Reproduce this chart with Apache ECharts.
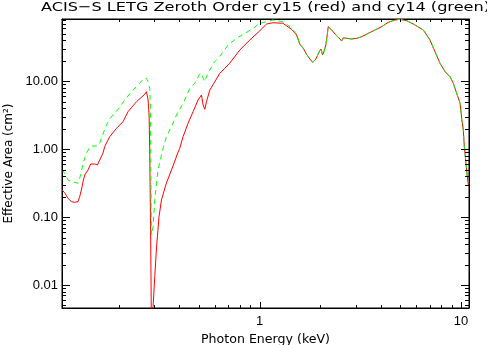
<!DOCTYPE html>
<html>
<head>
<meta charset="utf-8">
<script src="https://cdn.jsdelivr.net/npm/echarts@6/dist/echarts.min.js"></script>
<style>
  html, body { margin: 0; padding: 0; background: #ffffff; }
  #chart { width: 487px; height: 345px; }
</style>
</head>
<body>
<div id="chart"></div>
<script>
// Photon energy (keV) and effective area (cm^2), cycle 15
const energyCy15 = [
  0.1046, 0.1078, 0.112, 0.1165, 0.121, 0.1256, 0.128, 0.1306, 0.133, 0.1356,
  0.1408, 0.1452, 0.152, 0.1568, 0.161, 0.167, 0.1704, 0.1805, 0.195, 0.210,
  0.2225, 0.245, 0.2694, 0.2747, 0.2798, 0.2830, 0.2851, 0.2880, 0.2905, 0.2935,
  0.2962, 0.302, 0.3083, 0.317, 0.326, 0.345, 0.3656, 0.3928, 0.4018, 0.4175,
  0.4418, 0.468, 0.4955, 0.515, 0.5248, 0.535, 0.5454, 0.5666, 0.600, 0.635,
  0.673, 0.686, 0.7126, 0.798, 0.895, 1.004, 1.084, 1.165, 1.306, 1.442, 1.527,
  1.586, 1.647, 1.713, 1.778, 1.836, 1.905, 1.978, 2.017, 2.056, 2.087,
  2.135, 2.168, 2.193, 2.218, 2.28, 2.322, 2.414, 2.506, 2.556, 2.604,
  2.706, 2.866, 3.034, 3.213, 3.465, 3.741, 4.04, 4.355, 4.70, 4.98,
  5.375, 5.80, 6.50, 7.02, 7.43, 7.87, 8.33, 8.82, 9.16, 9.52,
  9.90, 10.08, 10.27, 10.39, 10.59, 10.75, 10.88
];
const areaCy15 = [
  0.251, 0.229, 0.189, 0.169, 0.165, 0.169, 0.200, 0.251, 0.333, 0.417,
  0.494, 0.606, 0.606, 0.586, 0.694, 0.871, 1.09, 1.53, 2.03, 2.54,
  3.57, 5.01, 6.44, 7.03, 5.31, 3.19, 0.974, 0.06, 0.003, 0.003,
  0.0048, 0.0133, 0.0366, 0.101, 0.179, 0.318, 0.494, 0.880, 1.03, 1.53,
  2.41, 3.57, 5.31, 6.29, 4.48, 3.87, 5.01, 7.45, 9.88, 13.1,
  15.6, 14.7, 18.6, 28.9, 40.6, 55.7, 69.8, 73.0, 71.6, 58.3, 48.1,
  35.1, 30.7, 25.0, 21.3, 19.1, 21.3, 27.3, 29.9, 24.4, 27.3,
  34.3, 48.1, 63.8, 61.7, 57.0, 57.0, 47.0, 42.0, 39.2, 43.9,
  43.0, 42.0, 43.0, 45.4, 50.9, 57.0, 63.8, 74.0, 80.0, 82.0,
  78.2, 69.8, 57.0, 40.6, 27.3, 18.4, 13.9, 11.7, 9.35, 6.66,
  4.75, 2.85, 1.92, 1.09, 0.621, 0.394, 0.297
];

// Photon energy (keV) and effective area (cm^2), cycle 14
const energyCy14 = [
  0.1046, 0.1078, 0.112, 0.1165, 0.1256, 0.128, 0.1306, 0.133, 0.1383, 0.1425,
  0.1465, 0.155, 0.1597, 0.1641, 0.1738, 0.184, 0.1985, 0.2143, 0.2313, 0.2543,
  0.264, 0.2747, 0.2798, 0.2851, 0.2874, 0.2905, 0.2925, 0.2962, 0.302, 0.308,
  0.3135, 0.326, 0.332, 0.345, 0.3656, 0.387, 0.4175, 0.4508, 0.4773, 0.501,
  0.515, 0.5248, 0.535, 0.5454, 0.5666, 0.600, 0.623, 0.660, 0.6985, 0.769,
  0.846, 0.930, 1.004, 1.084, 1.165, 1.306, 1.416, 1.527,
  1.586, 1.647, 1.713, 1.778, 1.836, 1.905, 1.978, 2.017, 2.056, 2.087,
  2.135, 2.168, 2.193, 2.218, 2.28, 2.322, 2.414, 2.506, 2.556, 2.604,
  2.706, 2.866, 3.034, 3.213, 3.465, 3.741, 4.04, 4.355, 4.70, 4.98,
  5.375, 5.80, 6.50, 7.02, 7.43, 7.87, 8.33, 8.82, 9.16, 9.52,
  9.90, 10.08, 10.27, 10.39, 10.59, 10.75, 10.88
];
const areaCy14 = [
  0.494, 0.442, 0.352, 0.333, 0.315, 0.373, 0.467, 0.621, 0.871, 1.03,
  1.116, 1.116, 1.154, 1.45, 2.28, 3.01, 3.87, 5.31, 7.03, 9.35,
  10.7, 11.1, 9.88, 7.89, 4.23, 0.06, 0.055, 0.0723, 0.1787, 0.315,
  0.494, 0.822, 1.03, 1.53, 2.15, 3.19, 4.75, 7.89, 9.35, 12.4,
  13.1, 11.1, 9.88, 11.7, 14.7, 19.5, 21.8, 27.3, 34.3, 43.0,
  50.9, 60.4, 71.6, 75.6, 80.0, 75.6, 63.7, 49.5,
  35.1, 30.7, 25.0, 21.3, 19.1, 21.3, 27.3, 29.9, 24.4, 27.3,
  34.3, 48.1, 63.8, 61.7, 57.0, 57.0, 47.0, 42.0, 39.2, 43.9,
  43.0, 42.0, 43.0, 45.4, 50.9, 57.0, 63.8, 74.0, 80.0, 82.0,
  78.2, 69.8, 57.0, 40.6, 27.3, 18.4, 13.9, 11.7, 9.35, 6.66,
  4.75, 2.85, 1.92, 1.09, 0.621, 0.40, 0.33
];

// Axis ranges and tick positions
const xRange = [0.1046, 10.96];
const yRange = [0.00458, 82.8];
const xMajorTicks = [1, 10];
const xMinorTicks = [0.2, 0.3, 0.4, 0.5, 0.6, 0.7, 0.8, 0.9, 2, 3, 4, 5, 6, 7, 8, 9];
const yMajorTicks = [0.01, 0.1, 1, 10];
const yMinorTicks = [
  0.005, 0.006, 0.007, 0.008, 0.009,
  0.02, 0.03, 0.04, 0.05, 0.06, 0.07, 0.08, 0.09,
  0.2, 0.3, 0.4, 0.5, 0.6, 0.7, 0.8, 0.9,
  2, 3, 4, 5, 6, 7, 8, 9,
  20, 30, 40, 50, 60, 70, 80
];

const titleText = 'ACIS\u2212S LETG Zeroth Order cy15 (red) and cy14 (green)';
const xName = 'Photon Energy (keV)';
const yName = 'Effective Area (cm\u00B2)';

const INK = '#000000';
const LABEL_FONT = 'Liberation Sans';
const NAME_FONT = 'DejaVu Sans';

function pairs(xs, ys) {
  return xs.map((x, i) => [x, ys[i]]);
}

function logAxis(range, position, labelFmt, margin) {
  return {
    type: 'log',
    logBase: 10,
    min: range[0],
    max: range[1],
    position: position,
    axisLine: { show: true, onZero: false, lineStyle: { color: INK, width: 1 } },
    axisTick: { show: false },
    axisLabel: labelFmt ? {
      show: true,
      showMinLabel: false,
      showMaxLabel: false,
      formatter: labelFmt,
      margin: margin,
      color: INK,
      fontFamily: LABEL_FONT,
      fontSize: 13
    } : { show: false },
    splitLine: { show: false },
    minorTick: { show: false }
  };
}

// Inward tick marks on both opposite sides of the frame, as 1px filled bars
function xTickSeries(values, len) {
  return {
    type: 'custom',
    coordinateSystem: 'cartesian2d',
    xAxisIndex: 0,
    yAxisIndex: 0,
    silent: true,
    clip: false,
    z: 6,
    data: values.map(v => [v, yRange[0]]),
    renderItem: (params, api) => {
      const v = api.value(0);
      const lowPt = api.coord([v, yRange[0]]);
      const highPt = api.coord([v, yRange[1]]);
      const px = Math.round(lowPt[0]);
      const yb = Math.round(lowPt[1]);
      const yt = Math.round(highPt[1]);
      return {
        type: 'group',
        children: [
          { type: 'rect', shape: { x: px, y: yb - len, width: 1, height: len }, style: { fill: INK } },
          { type: 'rect', shape: { x: px, y: yt, width: 1, height: len }, style: { fill: INK } }
        ]
      };
    }
  };
}
function yTickSeries(values, len) {
  return {
    type: 'custom',
    coordinateSystem: 'cartesian2d',
    xAxisIndex: 0,
    yAxisIndex: 0,
    silent: true,
    clip: false,
    z: 6,
    data: values.map(v => [xRange[0], v]),
    renderItem: (params, api) => {
      const v = api.value(1);
      const leftPt = api.coord([xRange[0], v]);
      const rightPt = api.coord([xRange[1], v]);
      const py = Math.round(leftPt[1]);
      const xl = Math.round(leftPt[0]);
      const xr = Math.round(rightPt[0]);
      return {
        type: 'group',
        children: [
          { type: 'rect', shape: { x: xl, y: py, width: len, height: 1 }, style: { fill: INK } },
          { type: 'rect', shape: { x: xr - len, y: py, width: len, height: 1 }, style: { fill: INK } }
        ]
      };
    }
  };
}

const chart = echarts.init(document.getElementById('chart'), null, { renderer: 'canvas' });

chart.setOption({
  animation: false,
  grid: { left: 62, right: 18, top: 19, bottom: 37, show: true, borderColor: INK, borderWidth: 1 },
  xAxis: [
    logAxis(xRange, 'bottom', v => String(Math.round(v)), 7),
    logAxis(xRange, 'top', null, 0)
  ],
  yAxis: [
    logAxis(yRange, 'left', v => Number(v).toFixed(2), 4),
    logAxis(yRange, 'right', null, 0)
  ],
  series: [
    {
      name: 'cy15',
      type: 'line',
      xAxisIndex: 0,
      yAxisIndex: 0,
      data: pairs(energyCy15, areaCy15),
      showSymbol: false,
      symbol: 'none',
      clip: true,
      lineStyle: { color: '#ff0000', width: 1 },
      z: 2
    },
    {
      name: 'cy14',
      type: 'line',
      xAxisIndex: 0,
      yAxisIndex: 0,
      data: pairs(energyCy14, areaCy14),
      showSymbol: false,
      symbol: 'none',
      clip: true,
      lineStyle: { color: '#00ff00', width: 1, type: [5, 4] },
      z: 3
    },
    xTickSeries(xMajorTicks, 6),
    xTickSeries(xMinorTicks, 3),
    yTickSeries(yMajorTicks, 8),
    yTickSeries(yMinorTicks, 4)
  ]
});

// Title and axis names, positioned from the frame through the axis scales
const frameLeft = chart.convertToPixel({ xAxisIndex: 0 }, xRange[0]);
const frameRight = chart.convertToPixel({ xAxisIndex: 0 }, xRange[1]);
const frameBottom = chart.convertToPixel({ yAxisIndex: 0 }, yRange[0]);
const frameTop = chart.convertToPixel({ yAxisIndex: 0 }, yRange[1]);
const frameMidX = (frameLeft + frameRight) / 2;
const frameMidY = (frameTop + frameBottom) / 2;

chart.setOption({
  graphic: [
    {
      type: 'text',
      x: frameMidX,
      y: 8,
      scaleX: 1.24,
      style: {
        text: titleText, fontFamily: NAME_FONT, fontSize: 13, fill: INK,
        align: 'center', verticalAlign: 'middle'
      }
    },
    {
      type: 'text',
      x: frameMidX,
      y: frameBottom + 32,
      style: {
        text: xName, fontFamily: NAME_FONT, fontSize: 12.6, fill: INK,
        align: 'center', verticalAlign: 'middle'
      }
    },
    {
      type: 'text',
      x: 9,
      y: frameMidY,
      rotation: Math.PI / 2,
      style: {
        text: yName, fontFamily: NAME_FONT, fontSize: 12, fill: INK,
        align: 'center', verticalAlign: 'middle'
      }
    }
  ]
});
</script>
</body>
</html>
